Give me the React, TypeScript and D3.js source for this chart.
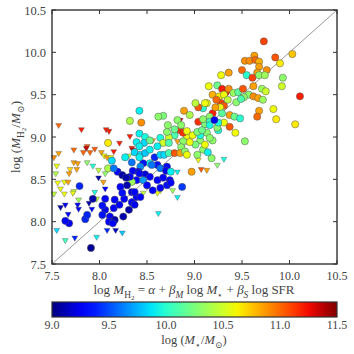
import React, { useEffect, useRef } from 'react';
import * as d3 from 'd3';

// axis ticks
const axisTicks = [7.5, 8.0, 8.5, 9.0, 9.5, 10.0, 10.5];
const massTicks = [9.0, 9.5, 10.0, 10.5, 11.0, 11.5];

// detections: [predicted log MH2, measured log MH2, log M*]
const detections = [
  [9.73, 10.13, 11.1], [10.03, 9.98, 10.75], [9.90, 9.87, 10.65], [9.85, 9.94, 11.05], [9.63, 9.96, 10.85],
  [9.53, 9.90, 10.9], [9.58, 9.90, 10.9], [9.64, 9.91, 11.0], [9.68, 9.89, 10.8], [9.68, 9.83, 10.85],
  [9.76, 9.79, 10.9], [9.50, 9.79, 11.0], [9.55, 9.73, 10.0], [9.66, 9.76, 10.85], [9.61, 9.70, 11.1],
  [9.68, 9.73, 10.3], [9.74, 9.73, 10.35], [9.93, 9.70, 10.3], [9.92, 9.60, 10.5], [9.28, 9.73, 10.6],
  [9.36, 9.76, 10.85], [9.15, 9.60, 10.6], [9.24, 9.61, 10.2], [9.29, 9.57, 11.2], [9.33, 9.53, 11.2],
  [9.36, 9.57, 10.9], [9.41, 9.52, 10.35], [9.46, 9.53, 10.15], [9.51, 9.57, 11.05], [9.62, 9.60, 10.85],
  [9.71, 9.57, 10.35], [9.75, 9.54, 10.5], [9.57, 9.50, 10.3], [9.52, 9.47, 10.3], [9.62, 9.48, 10.9],
  [9.67, 9.46, 10.85], [9.72, 9.44, 10.35], [10.11, 9.48, 11.2], [9.19, 9.50, 10.8], [9.26, 9.48, 10.65],
  [9.31, 9.50, 10.6], [9.13, 9.40, 10.6], [9.28, 9.40, 11.1], [9.31, 9.37, 11.05], [9.35, 9.44, 10.45],
  [9.44, 9.41, 10.3], [9.49, 9.45, 10.1], [9.23, 9.44, 11.0], [9.27, 9.35, 10.6], [9.68, 9.31, 10.85],
  [9.66, 9.24, 11.0], [9.83, 9.33, 10.6], [9.86, 9.21, 10.65], [10.06, 9.15, 10.65], [9.09, 9.34, 10.0],
  [9.19, 9.28, 11.2], [9.16, 9.24, 10.3], [9.29, 9.28, 10.15], [9.37, 9.26, 10.85], [9.42, 9.24, 10.2],
  [9.48, 9.22, 10.0], [9.31, 9.17, 10.6], [9.37, 9.12, 11.05], [9.43, 9.05, 10.6], [9.25, 9.08, 9.95],
  [9.13, 9.05, 10.3], [9.19, 8.96, 10.3], [9.53, 8.95, 10.3], [9.09, 8.85, 10.3], [9.04, 9.35, 11.05],
  [9.01, 9.40, 10.45], [9.11, 9.40, 10.6], [8.89, 9.31, 10.85], [9.04, 9.18, 11.15], [9.11, 9.15, 10.25],
  [8.95, 9.26, 10.4], [9.22, 9.35, 10.85], [9.24, 9.11, 10.3], [9.06, 8.96, 10.3], [9.01, 8.91, 10.25],
  [9.11, 8.91, 10.6], [9.18, 8.75, 10.3], [8.82, 9.20, 10.3], [8.85, 9.08, 11.15], [8.79, 9.02, 10.1],
  [8.73, 8.99, 10.5], [8.71, 9.06, 10.3], [8.64, 8.99, 9.95], [8.92, 9.01, 10.6], [9.06, 9.02, 9.95],
  [9.16, 8.99, 10.3], [9.09, 9.21, 10.3], [9.16, 9.18, 10.05], [9.25, 9.17, 9.95],
  [8.42, 9.31, 9.9], [8.67, 9.25, 10.25], [8.62, 9.24, 10.3], [8.44, 9.17, 10.9], [8.32, 9.19, 10.4],
  [8.72, 9.14, 10.3], [8.79, 9.09, 10.2], [8.86, 9.14, 10.3], [8.88, 9.05, 11.15], [8.92, 9.07, 10.6],
  [8.98, 9.02, 10.6], [9.03, 9.06, 10.25], [9.08, 9.08, 10.2], [9.16, 9.14, 9.95], [8.42, 9.04, 9.9],
  [8.48, 9.00, 9.95], [8.39, 8.94, 9.9], [8.47, 8.93, 9.85], [8.53, 8.96, 10.2], [8.67, 8.93, 10.5],
  [8.73, 8.93, 10.1], [8.88, 8.95, 10.3], [8.95, 8.94, 10.6], [8.86, 8.88, 10.3], [8.61, 8.89, 9.9],
  [8.37, 8.82, 9.85], [8.43, 8.79, 9.85], [8.48, 8.81, 9.8], [8.53, 8.85, 9.9], [8.58, 8.76, 9.4],
  [8.64, 8.79, 9.85], [8.68, 8.79, 9.85], [8.73, 8.81, 10.1], [8.79, 8.81, 11.05], [8.85, 8.81, 10.85],
  [8.90, 8.83, 10.3], [8.92, 8.79, 10.6], [9.03, 8.79, 10.3], [9.14, 8.82, 9.9], [8.97, 8.59, 10.85],
  [8.61, 8.67, 9.35], [8.53, 8.69, 9.9], [8.46, 8.69, 9.35], [8.43, 8.65, 9.65], [8.64, 8.63, 9.6],
  [8.71, 8.65, 9.3], [8.70, 8.60, 9.25], [8.75, 8.59, 9.9], [8.35, 8.60, 9.3], [8.41, 8.59, 9.25],
  [8.48, 8.56, 9.2], [8.53, 8.53, 9.3], [8.39, 8.49, 9.3], [8.46, 8.49, 9.7], [8.61, 8.49, 9.3],
  [8.67, 8.52, 9.3], [8.74, 8.49, 9.3], [8.34, 8.47, 10.35], [8.56, 8.37, 9.3], [8.71, 8.43, 9.35],
  [8.75, 8.46, 9.3], [8.87, 8.41, 9.45], [8.39, 8.29, 9.25], [8.43, 8.29, 9.3], [8.35, 8.22, 9.3],
  [8.34, 8.35, 9.2], [8.27, 8.76, 9.9], [8.42, 8.76, 9.9], [8.34, 8.70, 9.6], [8.13, 8.72, 9.85],
  [8.09, 8.63, 10.4], [8.19, 8.59, 9.3], [8.15, 8.63, 9.6], [8.24, 8.55, 9.1], [8.32, 8.53, 9.3],
  [8.42, 8.57, 9.3], [8.29, 8.43, 9.1], [8.22, 8.41, 9.3], [8.37, 8.35, 9.3], [8.34, 8.23, 9.3],
  [8.37, 8.20, 9.25], [8.26, 8.27, 9.3], [8.24, 8.34, 9.35], [8.16, 8.26, 9.3], [8.06, 8.27, 9.3],
  [8.06, 8.14, 9.25], [8.15, 8.16, 9.3], [8.21, 8.20, 9.3], [8.25, 8.06, 9.1], [8.31, 8.14, 9.1],
  [8.11, 8.06, 9.3], [8.03, 8.08, 9.35], [8.16, 8.02, 9.1], [8.10, 8.00, 9.3], [8.14, 7.98, 9.3],
  [7.79, 8.42, 9.4], [7.93, 8.27, 9.1], [8.03, 8.19, 9.35], [7.68, 7.98, 9.25], [7.64, 8.01, 9.3],
  [7.85, 8.03, 9.4], [7.87, 8.08, 9.4], [7.91, 7.69, 9.05], [8.09, 8.93, 10.65], [8.42, 8.89, 9.9],
  [8.55, 8.67, 9.6], [8.28, 8.52, 9.1], [8.50, 8.43, 9.3], [8.64, 8.40, 9.3], [9.21, 9.20, 9.25],
];

// upper limits (down triangles): [predicted, limit, log M*]
const upperLimits = [
  [7.57, 9.14, 11.0], [7.81, 9.09, 11.2], [8.07, 9.09, 11.2], [8.10, 9.07, 11.2], [8.32, 9.01, 11.2],
  [8.21, 8.93, 11.2], [8.34, 8.87, 11.2], [7.87, 8.89, 11.05], [7.86, 8.87, 11.35], [7.95, 8.86, 11.05],
  [7.73, 8.85, 11.0], [7.83, 8.82, 11.0], [7.90, 8.82, 11.0], [8.02, 8.82, 10.85], [8.15, 8.83, 11.2],
  [8.05, 8.78, 10.6], [8.08, 8.76, 10.85], [8.12, 8.76, 10.6], [7.57, 8.81, 10.85], [7.52, 8.76, 10.9],
  [8.31, 8.78, 10.4], [8.41, 8.79, 10.9], [8.37, 8.82, 10.9], [7.55, 8.66, 10.6], [7.54, 8.57, 10.4],
  [7.73, 8.70, 10.85], [7.77, 8.69, 10.85], [7.69, 8.62, 10.7], [7.76, 8.62, 10.85], [7.68, 8.57, 10.85],
  [7.87, 8.70, 10.3], [7.93, 8.66, 10.0], [7.99, 8.61, 10.45], [8.06, 8.57, 10.3], [7.56, 8.46, 10.6],
  [7.63, 8.47, 10.6], [7.67, 8.47, 10.85], [7.59, 8.39, 10.6], [7.63, 8.33, 10.6], [7.52, 8.33, 10.45],
  [7.73, 8.36, 10.45], [7.72, 8.34, 10.6], [7.95, 8.35, 9.95], [8.06, 8.39, 9.3], [7.97, 8.27, 10.45],
  [7.78, 8.26, 10.35], [7.89, 8.22, 9.1], [7.78, 8.15, 9.25], [7.92, 8.15, 9.3], [7.64, 8.20, 9.3],
  [7.59, 8.17, 9.1], [7.67, 8.09, 9.3], [7.77, 8.20, 9.25], [7.55, 7.90, 9.85], [7.64, 7.78, 10.05],
  [7.74, 7.81, 9.4], [7.97, 7.82, 9.9], [8.08, 7.90, 9.4], [8.17, 7.90, 9.15], [8.24, 7.87, 9.8],
  [8.04, 8.47, 10.85], [7.99, 8.52, 9.1], [8.85, 9.20, 11.35], [8.82, 8.95, 10.85], [8.56, 8.96, 10.85],
  [8.35, 8.85, 11.35], [9.04, 8.73, 10.6], [8.82, 8.59, 9.9], [9.07, 8.62, 11.05], [9.13, 8.61, 10.85],
  [9.24, 8.67, 10.3], [9.31, 8.74, 9.95], [8.50, 8.41, 10.6], [8.64, 8.37, 10.6], [8.77, 8.37, 10.35],
  [8.82, 8.29, 9.9], [8.62, 8.10, 9.9], [8.61, 8.34, 10.6], [8.46, 8.34, 10.45],
];

// matplotlib "jet"
const jetR = d3.scaleLinear([0, 0.35, 0.66, 0.89, 1], [0, 0, 1, 1, 0.5]).clamp(true);
const jetG = d3.scaleLinear([0, 0.125, 0.375, 0.64, 0.91, 1], [0, 0, 1, 1, 0, 0]).clamp(true);
const jetB = d3.scaleLinear([0, 0.11, 0.34, 0.65, 1], [0.5, 1, 1, 0, 0]).clamp(true);
const jet = (t: number) => d3.rgb(jetR(t) * 255, jetG(t) * 255, jetB(t) * 255).formatHex();

type Seg = [string, boolean, number];

function mathText(sel: any, segs: Seg[], size: number) {
  const shift = [0, 0.3 * size, 0.45 * size];
  const fs = [size, size * 0.72, size * 0.55];
  let cur = 0;
  segs.forEach(([t, it, lv]) => {
    sel.append('tspan')
      .attr('dy', shift[lv] - cur)
      .style('font-style', it ? 'italic' : 'normal')
      .style('font-size', `${fs[lv]}px`)
      .text(t);
    cur = shift[lv];
  });
}

const App = () => {
  const ref = useRef<SVGSVGElement>(null);

  useEffect(() => {
    const svg = d3.select(ref.current);
    svg.selectAll('*').remove();

    const left = 52, right = 337, top = 10, bottom = 264;
    const x = d3.scaleLinear().domain([7.5, 10.5]).range([left, right]);
    const y = d3.scaleLinear().domain([7.5, 10.5]).range([bottom, top]);
    const color = d3.scaleLinear().domain([9.0, 11.5]).range([0, 1]).clamp(true);
    const font = '"Liberation Serif", "DejaVu Serif", serif';
    const txt = '#444';

    svg.append('rect').attr('width', 354).attr('height', 354).attr('fill', '#fff');

    // one-to-one line
    svg.append('line')
      .attr('x1', x(7.5)).attr('y1', y(7.5))
      .attr('x2', x(10.5)).attr('y2', y(10.5))
      .attr('stroke', '#999').attr('stroke-width', 1);

    const tri = d3.symbol().type(d3.symbolTriangle).size(15);
    svg.append('g').selectAll('path')
      .data(upperLimits)
      .enter().append('path')
      .attr('d', tri)
      .attr('transform', d => `translate(${x(d[0])},${y(d[1])}) rotate(180)`)
      .attr('fill', d => jet(color(d[2])))
      .attr('stroke', '#555')
      .attr('stroke-width', 0.4);

    svg.append('g').selectAll('circle')
      .data(detections)
      .enter().append('circle')
      .attr('cx', d => x(d[0]))
      .attr('cy', d => y(d[1]))
      .attr('r', 3.6)
      .attr('fill', d => jet(color(d[2])))
      .attr('stroke', '#555')
      .attr('stroke-width', 0.5);

    // frame
    svg.append('rect')
      .attr('x', left).attr('y', top)
      .attr('width', right - left).attr('height', bottom - top)
      .attr('fill', 'none').attr('stroke', '#333').attr('stroke-width', 1.4);

    // inward ticks
    const tk = svg.append('g').attr('stroke', '#333').attr('stroke-width', 1);
    axisTicks.forEach(v => {
      tk.append('line').attr('x1', x(v)).attr('x2', x(v)).attr('y1', bottom).attr('y2', bottom - 4);
      tk.append('line').attr('x1', x(v)).attr('x2', x(v)).attr('y1', top).attr('y2', top + 4);
      tk.append('line').attr('y1', y(v)).attr('y2', y(v)).attr('x1', left).attr('x2', left + 4);
      tk.append('line').attr('y1', y(v)).attr('y2', y(v)).attr('x1', right).attr('x2', right - 4);
    });

    svg.append('g').selectAll('text')
      .data(axisTicks)
      .enter().append('text')
      .attr('x', d => x(d)).attr('y', 280)
      .attr('text-anchor', 'middle')
      .style('font-family', font).style('font-size', '12px').attr('fill', txt)
      .text(d => d.toFixed(1));

    svg.append('g').selectAll('text')
      .data(axisTicks)
      .enter().append('text')
      .attr('x', 46).attr('y', d => y(d) + 4.5)
      .attr('text-anchor', 'end')
      .style('font-family', font).style('font-size', '12.5px').attr('fill', txt)
      .text(d => d.toFixed(1));

    const xl = svg.append('text')
      .attr('x', 194).attr('y', 294)
      .attr('text-anchor', 'middle')
      .style('font-family', font).style('font-size', '13px').attr('fill', txt);
    mathText(xl, [
      ['log ', false, 0], ['M', true, 0], ['H', false, 1], ['2', false, 2],
      [' = ', false, 0], ['α', true, 0], [' + ', false, 0], ['β', true, 0], ['M', true, 1],
      [' log ', false, 0], ['M', true, 0], ['⋆', false, 1], [' + ', false, 0], ['β', true, 0],
      ['S', true, 1], [' log SFR', false, 0],
    ], 13);

    const yl = svg.append('text')
      .attr('transform', `translate(20,${(top + bottom) / 2}) rotate(-90)`)
      .attr('text-anchor', 'middle')
      .style('font-family', font).style('font-size', '13px').attr('fill', txt);
    mathText(yl, [
      ['log (', false, 0], ['M', true, 0], ['H', false, 1], ['2', false, 2],
      ['/', false, 0], ['M', true, 0], ['⊙', false, 1], [')', false, 0],
    ], 13);

    // colorbar
    const cbTop = 302, cbH = 15;
    const grad = svg.append('defs').append('linearGradient').attr('id', 'jetgrad');
    d3.range(0, 1.0001, 0.05).forEach(t => {
      grad.append('stop').attr('offset', `${t * 100}%`).attr('stop-color', jet(t));
    });
    svg.append('rect')
      .attr('x', left).attr('y', cbTop).attr('width', right - left).attr('height', cbH)
      .attr('fill', 'url(#jetgrad)').attr('stroke', '#333').attr('stroke-width', 1.2);

    const cx = d3.scaleLinear().domain([9.0, 11.5]).range([left, right]);
    svg.append('g').selectAll('text')
      .data(massTicks)
      .enter().append('text')
      .attr('x', d => cx(d)).attr('y', 329)
      .attr('text-anchor', 'middle')
      .style('font-family', font).style('font-size', '12px').attr('fill', txt)
      .text(d => d.toFixed(1));

    const cl = svg.append('text')
      .attr('x', 194).attr('y', 344)
      .attr('text-anchor', 'middle')
      .style('font-family', font).style('font-size', '12.5px').attr('fill', txt);
    mathText(cl, [
      ['log (', false, 0], ['M', true, 0], ['⋆', false, 1],
      ['/', false, 0], ['M', true, 0], ['⊙', false, 1], [')', false, 0],
    ], 12.5);
  }, []);

  return (
    <svg ref={ref} width={354} height={354}
      style={{ position: 'absolute', left: 0, top: 0 }} />
  );
};

export default App;
